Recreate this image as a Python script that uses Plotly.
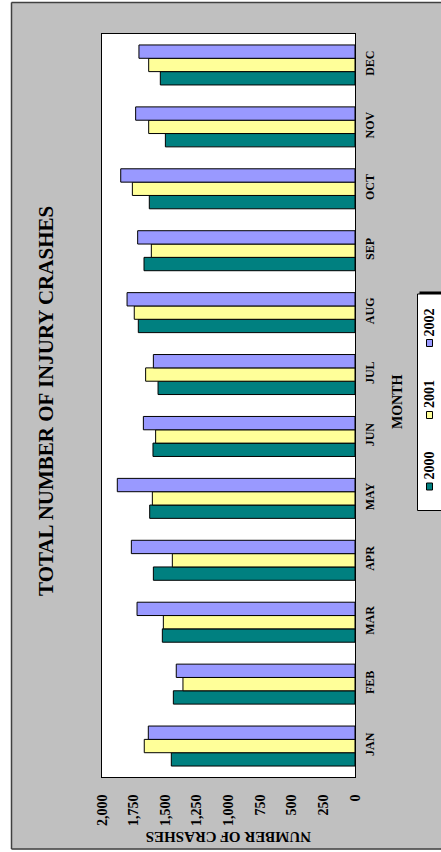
import plotly.graph_objects as go

months = ["JAN", "FEB", "MAR", "APR", "MAY", "JUN", "JUL", "AUG", "SEP", "OCT", "NOV", "DEC"]
crashes_2000 = [1452, 1436, 1523, 1594, 1623, 1597, 1557, 1713, 1668, 1626, 1499, 1539]
crashes_2001 = [1666, 1360, 1515, 1444, 1602, 1576, 1655, 1745, 1610, 1760, 1631, 1631]
crashes_2002 = [1634, 1413, 1723, 1768, 1879, 1673, 1594, 1802, 1718, 1852, 1734, 1708]
value_ticks = [0, 250, 500, 750, 1000, 1250, 1500, 1750, 2000]
value_tick_text = ["0", "250", "500", "750", "1,000", "1,250", "1,500", "1,750", "2,000"]
series_names = ["2000", "2001", "2002"]
series_colors = ["#008080", "#ffff99", "#9999ff"]

W, H = 441, 852
L, R, T, B = 102, 355, 34, 777
PW, PH = R - L, B - T
FONT = "Liberation Serif"


def px(x):
    return (x - L) / PW


def py(y):
    return (B - y) / PH


fig = go.Figure()
for name, vals, col in zip(series_names, [crashes_2000, crashes_2001, crashes_2002], series_colors):
    fig.add_trace(go.Bar(
        y=months, x=vals, orientation="h", name=name,
        marker=dict(color=col, line=dict(color="#000000", width=1)),
        showlegend=False,
    ))

shapes = []
# white margins outside the chart frame
shapes.append(dict(type="rect", xref="paper", yref="paper", x0=px(0), x1=px(11.5), y0=py(0), y1=py(H),
                   fillcolor="white", line=dict(width=0), layer="below"))
shapes.append(dict(type="rect", xref="paper", yref="paper", x0=px(0), x1=px(W), y0=py(0), y1=py(2),
                   fillcolor="white", line=dict(width=0), layer="below"))
shapes.append(dict(type="rect", xref="paper", yref="paper", x0=px(0), x1=px(W), y0=py(849.5), y1=py(H),
                   fillcolor="white", line=dict(width=0), layer="below"))
# chart frame lines
for (x0, y0, x1, y1) in [(11.5, 2.5, W + 5, 2.5), (11.5, 2.5, 11.5, 849), (11.5, 849, W + 5, 849)]:
    shapes.append(dict(type="line", xref="paper", yref="paper", x0=px(x0), y0=py(y0), x1=px(x1), y1=py(y1),
                       line=dict(color="#404040", width=1.5)))
# legend box with shadow
shapes.append(dict(type="rect", xref="paper", yref="paper", x0=px(419.5), x1=px(450), y0=py(291.5), y1=py(508),
                   fillcolor="#000000", line=dict(width=0)))
shapes.append(dict(type="rect", xref="paper", yref="paper", x0=px(417.5), x1=px(448), y0=py(294), y1=py(510.5),
                   fillcolor="white", line=dict(color="#000000", width=1)))

annotations = []
legend_sq_y = [486.5, 415, 343]
legend_tx_y = [465.5, 394, 322.5]
for name, col, sy, ty in zip(series_names, series_colors, legend_sq_y, legend_tx_y):
    shapes.append(dict(type="rect", xref="paper", yref="paper", x0=px(426.5), x1=px(432.5), y0=py(sy - 3.5), y1=py(sy + 3.5),
                       fillcolor=col, line=dict(color="#000000", width=1)))
    annotations.append(dict(xref="paper", yref="paper", x=px(429), y=py(ty), text=name, showarrow=False,
                            textangle=-90, font=dict(family=FONT, size=14, color="#000000", weight=700),
                            xanchor="center", yanchor="middle"))

annotations.append(dict(xref="paper", yref="paper", x=px(46), y=py(401), text="TOTAL NUMBER OF INJURY CRASHES",
                        showarrow=False, textangle=-90,
                        font=dict(family=FONT, size=21, color="#000000", weight=700),
                        xanchor="center", yanchor="middle"))
annotations.append(dict(xref="paper", yref="paper", x=px(397), y=py(402), text="MONTH",
                        showarrow=False, textangle=-90,
                        font=dict(family=FONT, size=14, color="#000000", weight=700),
                        xanchor="center", yanchor="middle"))
annotations.append(dict(xref="paper", yref="paper", x=px(229), y=py(837), text="NUMBER OF CRASHES",
                        showarrow=False, textangle=180,
                        font=dict(family=FONT, size=15, color="#000000", weight=700),
                        xanchor="center", yanchor="middle"))

fig.update_layout(
    width=W, height=H,
    margin=dict(l=L, r=W - R, t=T, b=H - B, pad=0),
    paper_bgcolor="#c0c0c0",
    plot_bgcolor="white",
    barmode="group",
    bargap=0.354,
    bargroupgap=0,
    shapes=shapes,
    annotations=annotations,
    font=dict(family=FONT, color="#000000", weight=700),
)
fig.update_xaxes(
    range=[2000, 0], tickvals=value_ticks, ticktext=value_tick_text, tickangle=-90,
    showgrid=False, zeroline=False, showline=True, linecolor="#000000", linewidth=1, mirror=True,
    ticks="", ticklabelstandoff=11,
    tickfont=dict(family=FONT, size=14, color="#000000", weight=700),
)
fig.update_yaxes(
    side="right", tickangle=-90, categoryorder="array", categoryarray=months,
    showgrid=False, zeroline=False, showline=True, linecolor="#000000", linewidth=1, mirror=True,
    ticks="", ticklabelstandoff=4,
    tickfont=dict(family=FONT, size=12, color="#000000", weight=700),
)

fig.write_html("out.html", config={"displayModeBar": False},
               post_script="document.body.style.margin='0';document.body.style.overflow='hidden';")
